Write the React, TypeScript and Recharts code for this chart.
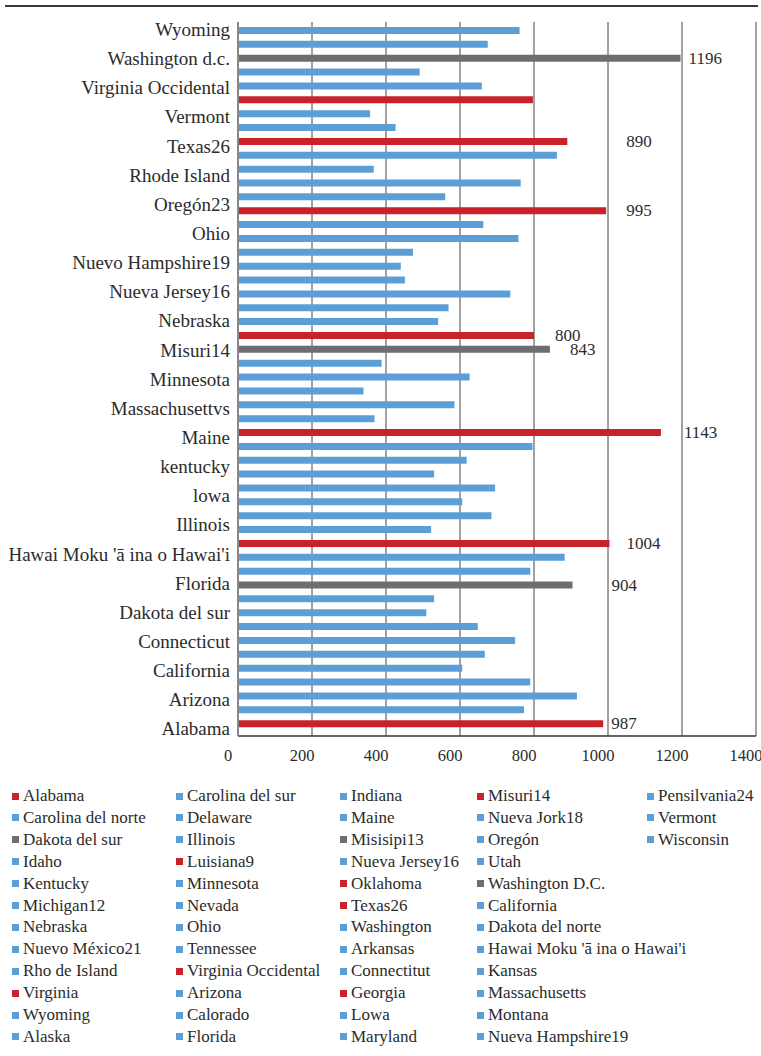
import React from "react";
import { BarChart, Bar, XAxis, YAxis, CartesianGrid, Cell, LabelList } from "recharts";

const BLUE = "#5b9fd6";
const RED = "#c9222a";
const GRAY = "#6d6e72";
const GROUP_COLORS: Record<string, string> = { b: BLUE, r: RED, g: GRAY };
const FONT = "'Liberation Serif', 'Times New Roman', serif";

// bars from the bottom (Alabama) to the top (Wyoming)
const barValues = [
  987, 773, 916, 790, 606, 667, 749, 648, 509, 530,
  904, 790, 883, 1004, 522, 685, 606, 695, 530, 618,
  796, 1143, 369, 585, 339, 626, 388, 843, 800, 541,
  569, 736, 451, 440, 473, 758, 663, 995, 560, 764,
  367, 862, 890, 426, 357, 797, 659, 491, 1196, 675,
  761,
];
const barGroups = "rbbbbbbbbbgbbrbbbbbbbrbbbbbgrbbbbbbbbrbbbbrbbrbbgbb".split("");

// category labels, bottom to top
const axisLabels = [
  "Alabama", "Arizona", "California", "Connecticut", "Dakota del sur",
  "Florida", "Hawai Moku 'ā ina o Hawai'i", "Illinois", "lowa", "kentucky",
  "Maine", "Massachusettvs", "Minnesota", "Misuri14", "Nebraska",
  "Nueva Jersey16", "Nuevo Hampshire19", "Ohio", "Oregón23", "Rhode Island",
  "Texas26", "Vermont", "Virginia Occidental", "Washington d.c.", "Wyoming",
];

const xTicks = [0, 200, 400, 600, 800, 1000, 1200, 1400];

const legendNames = [
  "Alabama", "Carolina del norte", "Dakota del sur", "Idaho", "Kentucky", "Michigan12",
  "Nebraska", "Nuevo México21", "Rho de Island", "Virginia", "Wyoming", "Alaska",
  "Carolina del sur", "Delaware", "Illinois", "Luisiana9", "Minnesota", "Nevada",
  "Ohio", "Tennessee", "Virginia Occidental", "Arizona", "Calorado", "Florida",
  "Indiana", "Maine", "Misisipi13", "Nueva Jersey16", "Oklahoma", "Texas26",
  "Washington", "Arkansas", "Connectitut", "Georgia", "Lowa", "Maryland",
  "Misuri14", "Nueva Jork18", "Oregón", "Utah", "Washington D.C.", "California",
  "Dakota del norte", "Hawai Moku 'ā ina o Hawai'i", "Kansas", "Massachusetts", "Montana", "Nueva Hampshire19",
  "Pensilvania24", "Vermont", "Wisconsin",
];
const legendGroups = "rbgbbbbbbrbbbbbrbbbbrbbbbbgbrrbbbrbbrbbbgbbbbbbbbbb".split("");

// which bars carry a value label, and how far right of the bar end it sits
const labelGap: Record<number, number> = {
  0: 8, 10: 39, 13: 17, 21: 23, 27: 20, 28: 21, 37: 20, 42: 59, 48: 8,
};

const barData = barValues.map((value, i) => ({ slot: i, value, group: barGroups[i] }));
const labelTicks = axisLabels.map((_, j) => j * 2);

const LEGEND_COLS = [12, 176, 340, 477, 647];

function ValueLabel(props: any) {
  const { x, y, width, height, value, index } = props;
  const gap = labelGap[index];
  if (gap === undefined) return null;
  return (
    <text
      x={x + width + gap}
      y={y + height / 2}
      dominantBaseline="central"
      fontFamily={FONT}
      fontSize={17}
      fill="#2b2b2b"
    >
      {value}
    </text>
  );
}

export default function App() {
  return (
    <div style={{ position: "absolute", left: 0, top: 0, width: 761, height: 1056, background: "#fff", fontFamily: FONT }}>
      <div style={{ position: "absolute", left: 5, top: 5, width: 753, height: 2, background: "#3a3a3a" }} />
      <BarChart
        width={761}
        height={775}
        data={barData}
        layout="vertical"
        margin={{ top: 22, right: 5, bottom: 0, left: 0 }}
        barCategoryGap={0}
      >
        <CartesianGrid horizontal={false} stroke="#444" strokeWidth={1} />
        <XAxis
          type="number"
          domain={[0, 1400]}
          ticks={xTicks}
          interval={0}
          height={39}
          axisLine={{ stroke: "#333", strokeWidth: 1.5 }}
          tickLine={false}
          tickMargin={7}
          tick={{ fontFamily: FONT, fontSize: 16.5, fill: "#2b2b2b", dx: -10 }}
        />
        <YAxis yAxisId="bars" type="category" dataKey="slot" hide width={0} reversed padding={{ top: 2, bottom: 5 }} />
        <YAxis
          yAxisId="labels"
          type="number"
          dataKey="slot"
          domain={[-0.5, 48.5]}
          allowDataOverflow
          reversed
          ticks={labelTicks}
          interval={0}
          tickFormatter={(v: number) => axisLabels[Math.round(v / 2)]}
          width={238}
          axisLine={{ stroke: "#888", strokeWidth: 2 }}
          tickLine={false}
          tick={{ fontFamily: FONT, fontSize: 19, fill: "#2b2b2b" }}
        />
        <Bar yAxisId="bars" dataKey="value" barSize={7} isAnimationActive={false}>
          {barData.map((d) => (
            <Cell key={d.slot} fill={GROUP_COLORS[d.group]} />
          ))}
          <LabelList dataKey="value" content={ValueLabel} />
        </Bar>
      </BarChart>
      {legendNames.map((name, k) => {
        const col = Math.floor(k / 12);
        const row = k % 12;
        return (
          <div
            key={name + k}
            style={{
              position: "absolute",
              left: LEGEND_COLS[col],
              top: 785 + row * 21.9,
              height: 22,
              display: "flex",
              alignItems: "center",
              whiteSpace: "nowrap",
              fontSize: 17,
              color: "#2b2b2b",
            }}
          >
            <span style={{ width: 7, height: 7, background: GROUP_COLORS[legendGroups[k]], marginRight: 4, display: "inline-block" }} />
            {name}
          </div>
        );
      })}
    </div>
  );
}
